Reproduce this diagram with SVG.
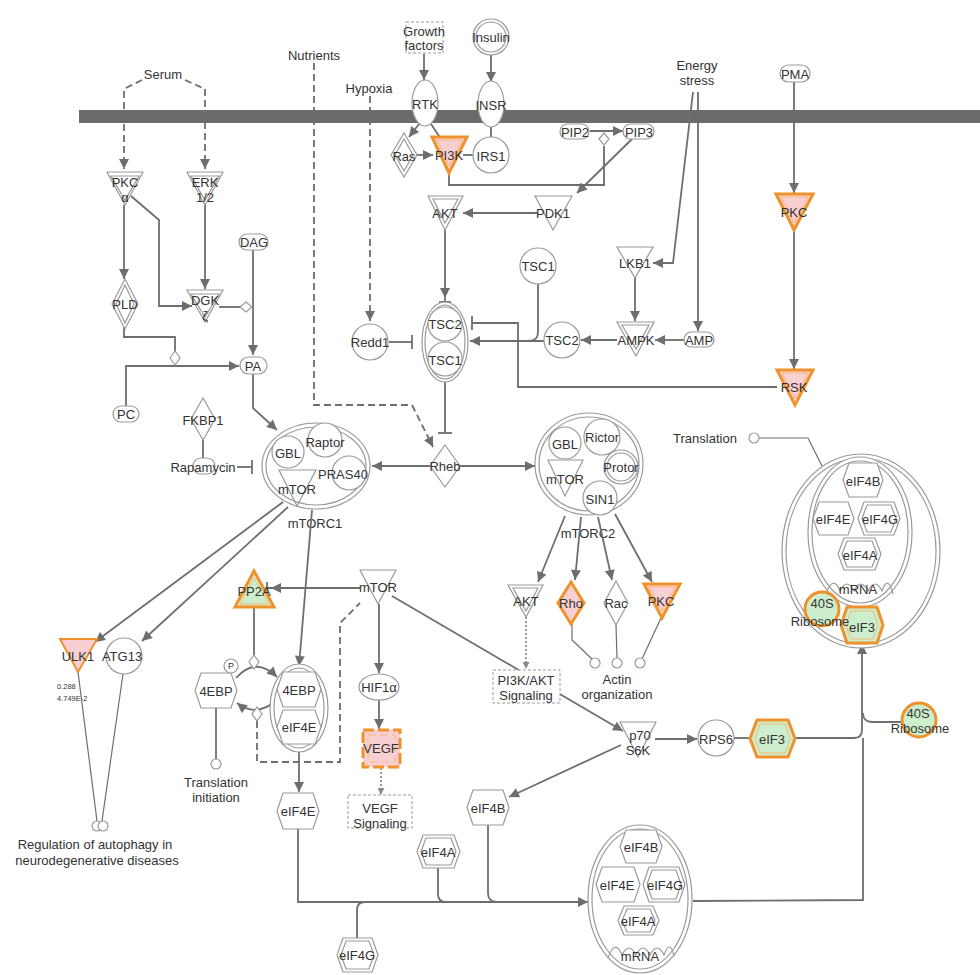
<svg xmlns="http://www.w3.org/2000/svg" width="980" height="975" viewBox="0 0 980 975">
<defs>
<style>
text{font-family:"Liberation Sans",Arial,sans-serif;font-size:13px;fill:#333;text-anchor:middle;dominant-baseline:central}
.sm{font-size:7.5px;text-anchor:start}
.n{fill:#fff;stroke:#9a9a9a;stroke-width:1.2}
.nn{fill:none;stroke:#9a9a9a;stroke-width:1.2}
.op{fill:#f8cfd2;stroke:#f0922b;stroke-width:3}
.og{fill:#cdeecd;stroke:#f0922b;stroke-width:3}
.oi{fill:none;stroke:#f7b978;stroke-width:1}
.e{fill:none;stroke:#6e6e6e;stroke-width:1.8}
.t{stroke-width:1.2}
.d{stroke-dasharray:7 4}
.dt{stroke-dasharray:2 2;stroke-width:1.4}
.box{fill:#fff;stroke:#9a9a9a;stroke-width:1;stroke-dasharray:3 2}
</style>
<marker id="ar" viewBox="0 0 10 10" refX="10" refY="5" markerWidth="11" markerHeight="10" markerUnits="userSpaceOnUse" orient="auto">
<path d="M0,0 L10,5 L0,10 z" fill="#6e6e6e"/>
</marker>
<marker id="ars" viewBox="0 0 10 10" refX="10" refY="5" markerWidth="8" markerHeight="7" markerUnits="userSpaceOnUse" orient="auto">
<path d="M0,0 L10,5 L0,10 z" fill="#8a8a8a"/>
</marker>
<marker id="bar" viewBox="0 0 4 14" refX="3" refY="7" markerWidth="4" markerHeight="14" markerUnits="userSpaceOnUse" orient="auto">
<path d="M3,0 L3,14" stroke="#6e6e6e" stroke-width="1.8"/>
</marker>
<marker id="arbar" viewBox="0 0 16 14" refX="15" refY="7" markerWidth="16" markerHeight="14" markerUnits="userSpaceOnUse" orient="auto">
<path d="M0,2 L10,7 L0,12 z" fill="#6e6e6e"/>
<path d="M14,1 L14,13" stroke="#6e6e6e" stroke-width="1.8"/>
</marker>
</defs>

<!-- plasma membrane -->
<rect x="79" y="110" width="901" height="13" fill="#6b6b6b"/>

<!-- free labels -->
<text x="163" y="74">Serum</text>
<text x="314" y="55">Nutrients</text>
<text x="369" y="88">Hypoxia</text>
<text x="697" y="65">Energy</text>
<text x="697" y="80">stress</text>
<text x="705" y="438">Translation</text>
<text x="315" y="523">mTORC1</text>
<text x="588" y="533">mTORC2</text>
<text x="617" y="679">Actin</text>
<text x="617" y="694">organization</text>
<text x="216" y="782">Translation</text>
<text x="216" y="797">initiation</text>
<text x="95" y="844">Regulation of autophagy in</text>
<text x="97" y="860">neurodegenerative diseases</text>
<text class="sm" x="57" y="686">0.288</text>
<text class="sm" x="57" y="698">4.749E-2</text>

<!-- connectors -->
<g id="edges">
<path class="e d" d="M142,80 L124,89 L124,169" marker-end="url(#ar)"/>
<path class="e d" d="M185,80 L205,89 L205,169" marker-end="url(#ar)"/>
<path class="e" d="M124,205 L124,279" marker-end="url(#ar)"/>
<path class="e" d="M131,196 L159,220 L159,306 L192,306" marker-end="url(#ar)"/>
<path class="e" d="M205,205 L205,289" marker-end="url(#ar)"/>
<path class="e" d="M219,307 L240,307"/>
<path class="e" d="M253,250 L253,355" marker-end="url(#ar)"/>
<path class="e" d="M124,327 L124,337 L175,337 L175,351"/>
<path class="e" d="M126,406 L126,366 L239,366" marker-end="url(#ar)"/>
<path class="e" d="M253,374 L253,408 L277,430" marker-end="url(#ar)"/>
<path class="e" d="M203,440 L203,458"/>
<path class="e" d="M237,467 L252,467" marker-end="url(#bar)"/>
<path class="e d" d="M314,63 L314,405 L412,405 L433,447" marker-end="url(#ar)"/>
<path class="e d" d="M370,96 L370,321" marker-end="url(#ar)"/>
<path class="e" d="M389,342 L412,342" marker-end="url(#bar)"/>
<path class="e" d="M445,381 L445,433" marker-end="url(#bar)"/>
<path class="e" d="M430,466 L372,466" marker-end="url(#ar)"/>
<path class="e" d="M460,466 L535,466" marker-end="url(#ar)"/>
<path class="e" d="M424,54 L424,80" marker-end="url(#ar)"/>
<path class="e" d="M491,55 L491,82" marker-end="url(#ar)"/>
<path class="e" d="M491,127 L491,137"/>
<path class="e" d="M419,124 L409,137" marker-end="url(#ar)"/>
<path class="e" d="M431,124 L441,139"/>
<path class="e" d="M417,155 L433,155" marker-end="url(#ar)"/>
<path class="e" d="M473,155 L463,155"/>
<path class="e" d="M590,131 L623,131" marker-end="url(#ar)"/>
<path class="e" d="M449,172 L449,185 L604,185 L604,146"/>
<path class="e" d="M632,139 L577,193" marker-end="url(#ar)"/>
<path class="e" d="M537,213 L463,213" marker-end="url(#ar)"/>
<path class="e" d="M445,230 L445,303" marker-end="url(#arbar)"/>
<path class="e" d="M538,284 L538,332 Q538,341 529,341"/>
<path class="e" d="M544,341 L470,341" marker-end="url(#ar)"/>
<path class="e" d="M777,387 L518,387 L518,323 L472,323" marker-end="url(#bar)"/>
<path class="e" d="M617,340 L581,340" marker-end="url(#ar)"/>
<path class="e" d="M684,340 L655,340" marker-end="url(#ar)"/>
<path class="e" d="M698,92 L698,331" marker-end="url(#ar)"/>
<path class="e" d="M693,92 L673,263 L653,263" marker-end="url(#ar)"/>
<path class="e" d="M635,278 L635,321" marker-end="url(#ar)"/>
<path class="e" d="M794,82 L794,193" marker-end="url(#ar)"/>
<path class="e" d="M794,231 L794,369" marker-end="url(#ar)"/>
<path class="e" d="M565,516 L538,582" marker-end="url(#ar)"/>
<path class="e" d="M581,517 L575,580" marker-end="url(#ar)"/>
<path class="e" d="M598,517 L612,580" marker-end="url(#ar)"/>
<path class="e" d="M615,514 L652,582" marker-end="url(#ar)"/>
<path class="e t" d="M572,624 L572,640 L592,659"/>
<path class="e t" d="M616,625 L617,658"/>
<path class="e t" d="M661,618 L642,659"/>
<path class="e dt" d="M526,617 L526,669" marker-end="url(#ars)"/>
<path class="e" d="M392,596 L623,731" marker-end="url(#ar)"/>
<path class="e" d="M655,739 L697,739" marker-end="url(#ar)"/>
<path class="e" d="M734,738 L750,738"/>
<path class="e" d="M795,738 L854,738 Q862,738 862,730 L862,644" marker-end="url(#ar)"/>
<path class="e" d="M902,722 L872,722 Q863,722 863,713"/>
<path class="e" d="M693,901 L863,900 L863,738"/>
<path class="e" d="M621,745 L509,797" marker-end="url(#ar)"/>
<path class="e" d="M488,825 L488,893 Q488,902 497,902"/>
<path class="e" d="M438,868 L438,894 Q438,902 446,902"/>
<path class="e" d="M357,938 L357,910 Q357,902 365,902"/>
<path class="e" d="M298,829 L298,902 L588,902" marker-end="url(#ar)"/>
<path class="e" d="M283,502 L95,642" marker-end="url(#ar)"/>
<path class="e" d="M288,507 L142,641" marker-end="url(#ar)"/>
<path class="e t" d="M78,672 L97,821"/>
<path class="e t" d="M123,674 L102,821"/>
<path class="e" d="M312,510 L299,666" marker-end="url(#ar)"/>
<path class="e" d="M360,588 L266,588" marker-end="url(#arbar)"/>
<path class="e" d="M254,607 L254,656"/>
<path class="e" d="M236,678 Q256,656 277,677" marker-end="url(#ar)"/>
<path class="e" d="M277,700 Q256,718 237,703" marker-end="url(#ar)"/>
<path class="e d" d="M257,721 L257,762 L340,762 L340,623 L360,603"/>
<path class="e" d="M299,752 L299,792" marker-end="url(#ar)"/>
<path class="e" d="M216,708 L216,759"/>
<path class="e" d="M379,604 L379,673" marker-end="url(#ar)"/>
<path class="e" d="M379,700 L379,729" marker-end="url(#ar)"/>
<path class="e dt" d="M381,768 L381,795" marker-end="url(#ars)"/>
<path class="e t" d="M759,438 L808,438 L822,466"/>
<!-- small junction marks -->
<polygon class="n" points="240,307 246,302 252,307 246,312"/>
<polygon class="n" points="170,358 175,351 180,358 175,365"/>
<polygon class="n" points="599,139 604,133 609,139 604,145"/>
<polygon class="n" points="249,662 254,655 259,662 254,669"/>
<polygon class="n" points="252,714 257,707 262,714 257,721"/>
<circle class="n" cx="216" cy="764" r="5"/>
<circle class="n" cx="97" cy="826" r="5"/>
<circle class="n" cx="103" cy="826" r="5"/>
<circle class="n" cx="595" cy="663" r="5"/>
<circle class="n" cx="617" cy="663" r="5"/>
<circle class="n" cx="640" cy="663" r="5"/>
<circle class="n" cx="754" cy="438" r="5"/>
</g>

<!-- upstream inputs -->
<g id="growth-factors"><rect class="box" x="406" y="22" width="37" height="31"/><text x="424" y="31">Growth</text><text x="424" y="45">factors</text></g>
<g id="insulin"><circle class="n" cx="491" cy="37" r="18"/><circle class="n" cx="491" cy="37" r="15"/><text x="491" y="37">Insulin</text></g>
<g id="pma"><rect class="n" x="780" y="65" width="30" height="17" rx="8.5"/><text x="795" y="74">PMA</text></g>
<g id="rtk"><ellipse class="n" cx="425" cy="103" rx="13" ry="23"/><text x="425" y="104">RTK</text></g>
<g id="insr"><ellipse class="n" cx="491" cy="104" rx="13" ry="23"/><text x="491" y="105">INSR</text></g>
<g id="ras"><polygon class="n" points="404,133 417,155 404,177 391,155"/><polygon class="nn" points="404,139 413,155 404,171 395,155"/><text x="404" y="156">Ras</text></g>
<g id="pi3k"><polygon class="op" points="432,137 467,137 449,173"/><polygon class="oi" points="437,140 462,140 449,166"/><text x="449" y="155">PI3K</text></g>
<g id="irs1"><circle class="n" cx="491" cy="155" r="18"/><text x="491" y="156">IRS1</text></g>
<g id="pip2"><rect class="n" x="560" y="124" width="29" height="15" rx="7.5"/><text x="575" y="132">PIP2</text></g>
<g id="pip3"><rect class="n" x="623" y="124" width="31" height="15" rx="7.5"/><text x="639" y="132">PIP3</text></g>
<g id="akt-top"><polygon class="n" points="428,196 463,196 445,230"/><polygon class="nn" points="433,199 458,199 445,223"/><text x="445" y="213">AKT</text></g>
<g id="pdk1"><polygon class="n" points="535,196 572,196 553,230"/><text x="553" y="213">PDK1</text></g>
<g id="pkc-right"><polygon class="op" points="776,194 813,194 794,230"/><polygon class="oi" points="781,197 808,197 794,223"/><text x="794" y="212">PKC</text></g>
<g id="rsk"><polygon class="op" points="777,370 813,370 795,405"/><polygon class="oi" points="782,373 808,373 795,398"/><text x="794" y="387">RSK</text></g>

<!-- serum / lipid branch -->
<g id="pkc-alpha"><polygon class="n" points="107,172 143,172 125,205"/><polygon class="nn" points="111,176 139,176 125,200"/><text x="125" y="182">PKC</text><text x="125" y="197">α</text></g>
<g id="erk"><polygon class="n" points="187,172 223,172 205,205"/><polygon class="nn" points="191,176 219,176 205,200"/><text x="205" y="182">ERK</text><text x="205" y="197">1/2</text></g>
<g id="pld"><polygon class="n" points="125,279 138,304 125,329 112,304"/><polygon class="nn" points="125,285 134,304 125,323 116,304"/><text x="125" y="304">PLD</text></g>
<g id="dgk"><polygon class="n" points="187,290 223,290 205,322"/><polygon class="nn" points="191,294 219,294 205,317"/><text x="205" y="300">DGK</text><text x="205" y="315">ζ</text></g>
<g id="dag"><rect class="n" x="239" y="234" width="29" height="16" rx="8"/><text x="254" y="242">DAG</text></g>
<g id="pa"><rect class="n" x="240" y="357" width="27" height="17" rx="8.5"/><text x="253" y="366">PA</text></g>
<g id="pc"><rect class="n" x="113" y="406" width="26" height="16" rx="8"/><text x="126" y="414">PC</text></g>
<g id="fkbp1"><polygon class="n" points="203,398 215,419 203,440 191,419"/><text x="203" y="420">FKBP1</text></g>
<g id="rapamycin"><rect class="n" x="193" y="458" width="22" height="16" rx="8"/><text x="203" y="467">Rapamycin</text></g>

<!-- mTORC1 -->
<g id="mtorc1">
<ellipse class="n" cx="316" cy="466" rx="54" ry="43"/><ellipse class="nn" cx="316" cy="466" rx="50" ry="39"/>
<circle class="n" cx="288" cy="452" r="16"/><circle class="n" cx="325" cy="440" r="17"/><circle class="n" cx="349" cy="473" r="17"/>
<polygon class="nn" points="279,470 316,470 297,506"/>
<text x="288" y="453">GBL</text><text x="325" y="442">Raptor</text><text x="343" y="474">PRAS40</text><text x="297" y="489">mTOR</text>
</g>

<!-- TSC / AMPK branch -->
<g id="redd1"><circle class="n" cx="370" cy="342" r="18"/><text x="370" y="342">Redd1</text></g>
<g id="tsc-complex"><ellipse class="n" cx="445" cy="342" rx="23" ry="40"/><ellipse class="nn" cx="445" cy="342" rx="20" ry="37"/><circle class="n" cx="445" cy="324" r="17"/><circle class="n" cx="445" cy="359" r="17"/><text x="445" y="324">TSC2</text><text x="445" y="360">TSC1</text></g>
<g id="tsc1"><circle class="n" cx="538" cy="266" r="18"/><text x="538" y="266">TSC1</text></g>
<g id="tsc2"><circle class="n" cx="562" cy="340" r="18"/><text x="562" y="340">TSC2</text></g>
<g id="lkb1"><polygon class="n" points="617,247 653,247 635,278"/><text x="635" y="263">LKB1</text></g>
<g id="ampk"><polygon class="n" points="617,322 654,322 636,356"/><polygon class="nn" points="622,325 649,325 636,349"/><text x="636" y="340">AMPK</text></g>
<g id="amp"><rect class="n" x="684" y="332" width="30" height="15" rx="7.5"/><text x="699" y="340">AMP</text></g>
<g id="rheb"><polygon class="n" points="445,445 460,466 445,487 430,466"/><text x="445" y="466">Rheb</text></g>

<!-- mTORC2 and outputs -->
<g id="mtorc2">
<ellipse class="n" cx="589" cy="464" rx="54" ry="51"/><ellipse class="nn" cx="589" cy="464" rx="50" ry="47"/>
<circle class="n" cx="565" cy="443" r="16"/><circle class="n" cx="602" cy="437" r="18"/>
<circle class="n" cx="621" cy="467" r="17"/><circle class="nn" cx="621" cy="467" r="14"/>
<polygon class="nn" points="548,460 583,460 565,496"/><circle class="n" cx="600" cy="498" r="17"/>
<text x="565" y="444">GBL</text><text x="602" y="437">Rictor</text><text x="621" y="467">Protor</text><text x="565" y="479">mTOR</text><text x="600" y="499">SIN1</text>
</g>
<g id="akt-low"><polygon class="n" points="508,585 543,585 526,617"/><polygon class="nn" points="513,588 538,588 526,611"/><text x="526" y="601">AKT</text></g>
<g id="rho"><polygon class="op" points="571,582 584,603 571,624 558,603"/><text x="571" y="603">Rho</text></g>
<g id="rac"><polygon class="n" points="616,581 628,603 616,625 604,603"/><text x="616" y="603">Rac</text></g>
<g id="pkc-low"><polygon class="op" points="644,584 680,584 662,618"/><polygon class="oi" points="649,587 675,587 662,611"/><text x="661" y="601">PKC</text></g>
<g id="pi3k-akt-signaling"><rect class="box" x="493" y="670" width="67" height="33"/><text x="526" y="680">PI3K/AKT</text><text x="526" y="695">Signaling</text></g>
<g id="p70s6k"><polygon class="n" points="620,722 656,722 638,757"/><text x="640" y="735">p70</text><text x="638" y="750">S6K</text></g>
<g id="rps6"><circle class="n" cx="716" cy="738" r="18"/><text x="716" y="739">RPS6</text></g>
<g id="eif3"><polygon class="og" points="750,738.5 757,720 788,720 795,738.5 788,757 757,757"/><polygon class="oi" points="755,738.5 760,724 785,724 790,738.5 785,753 760,753"/><text x="772" y="739">eIF3</text></g>
<g id="ribosome-40s"><circle class="og" cx="919" cy="720" r="17"/><text x="918" y="713">40S</text><text x="920" y="728">Ribosome</text></g>

<!-- autophagy branch -->
<g id="ulk1"><polygon fill="#f8cfd2" stroke="#f0922b" stroke-width="2" points="60,639 97,639 78,672"/><text x="78" y="656">ULK1</text></g>
<g id="atg13"><circle class="n" cx="124" cy="656" r="18"/><text x="122" y="656">ATG13</text></g>

<!-- 4EBP / translation branch -->
<g id="pp2a"><polygon class="og" points="235,607 274,607 254,571"/><polygon class="oi" points="240,604 269,604 254,578"/><text x="254" y="591">PP2A</text></g>
<g id="mtor-low"><polygon class="n" points="360,570 396,570 378,604"/><text x="378" y="587">mTOR</text></g>
<g id="4ebp-p"><polygon class="n" points="195,690.5 201,673 231,673 237,690.5 231,708 201,708"/><text x="216" y="691">4EBP</text><circle class="n" cx="231" cy="666" r="7"/><text x="231" y="666" style="font-size:9px">P</text></g>
<g id="4ebp-eif4e"><ellipse class="n" cx="299" cy="708" rx="29" ry="44"/><ellipse class="nn" cx="299" cy="708" rx="25" ry="40"/>
<polygon class="n" points="277,689.5 283,672 315,672 321,689.5 315,707 283,707"/><polygon class="n" points="277,727 283,710 315,710 321,727 315,744 283,744"/>
<text x="299" y="690">4EBP</text><text x="299" y="727">eIF4E</text></g>
<g id="eif4e"><polygon class="n" points="277,811 283,793 313,793 319,811 313,829 283,829"/><text x="298" y="811">eIF4E</text></g>
<g id="hif1a"><ellipse class="n" cx="379" cy="687" rx="20" ry="13"/><text x="379" y="687">HIF1α</text></g>
<g id="vegf"><rect fill="#f8cfd2" stroke="#f0922b" stroke-width="3" stroke-dasharray="11 4" x="363" y="730" width="37" height="37"/><rect fill="none" stroke="#f7b978" stroke-width="1" stroke-dasharray="8 4" x="368" y="735" width="27" height="27"/><text x="381" y="748">VEGF</text></g>
<g id="vegf-signaling"><rect class="box" x="348" y="795" width="64" height="33"/><text x="380" y="808">VEGF</text><text x="380" y="823">Signaling</text></g>
<g id="eif4b"><polygon class="n" points="467,807.5 473,790 503,790 509,807.5 503,825 473,825"/><text x="488" y="808">eIF4B</text></g>
<g id="eif4a"><polygon class="n" points="417,851.5 423,835 454,835 460,851.5 454,868 423,868"/><polygon class="nn" points="421,851.5 426,838 451,838 456,851.5 451,865 426,865"/><text x="438" y="852">eIF4A</text></g>
<g id="eif4g"><polygon class="n" points="337,955 343,938 372,938 378,955 372,972 343,972"/><polygon class="nn" points="341,955 346,941 369,941 374,955 369,969 346,969"/><text x="357" y="955">eIF4G</text></g>

<!-- eIF4F complex on mRNA -->
<g id="eif4f-mrna">
<ellipse class="n" cx="640" cy="899" rx="52" ry="74"/><ellipse class="nn" cx="640" cy="899" rx="48" ry="70"/>
<polygon class="n" points="620,846.5 626,830 656,830 662,846.5 656,863 626,863"/>
<polygon class="n" points="596,884.5 602,867 634,867 640,884.5 634,902 602,902"/>
<polygon class="n" points="643,884.5 649,867 679,867 685,884.5 679,902 649,902"/><polygon class="nn" points="647,884.5 652,870 676,870 681,884.5 676,899 652,899"/>
<polygon class="n" points="618,920.5 624,906 653,906 659,920.5 653,935 624,935"/><polygon class="nn" points="622,920.5 627,909 650,909 655,920.5 650,932 627,932"/>
<path class="nn" d="M608,958 Q615,938 622,955 Q629,941 636,955 Q643,941 650,955 Q657,941 664,955 Q670,938 674,956"/>
<text x="641" y="847">eIF4B</text><text x="617" y="885">eIF4E</text><text x="665" y="885">eIF4G</text><text x="638" y="921">eIF4A</text><text x="640" y="956">mRNA</text>
</g>

<!-- translation initiation complex -->
<g id="initiation-complex">
<ellipse class="n" cx="861" cy="551" rx="79" ry="97"/><ellipse class="nn" cx="861" cy="551" rx="75" ry="93"/>
<ellipse class="n" cx="860" cy="532" rx="52" ry="75"/><ellipse class="nn" cx="860" cy="532" rx="48" ry="71"/>
<polygon class="n" points="843,480 849,463 877,463 883,480 877,497 849,497"/>
<polygon class="n" points="813,518.5 819,502 848,502 854,518.5 848,535 819,535"/>
<polygon class="n" points="858,518.5 864,502 894,502 900,518.5 894,535 864,535"/><polygon class="nn" points="862,518.5 867,505 891,505 896,518.5 891,532 867,532"/>
<polygon class="n" points="838,554 844,538 875,538 881,554 875,570 844,570"/><polygon class="nn" points="842,554 847,541 872,541 877,554 872,567 847,567"/>
<path class="nn" d="M826,594 Q833,574 840,591 Q847,577 854,591 Q861,577 868,591 Q875,577 882,591 Q888,574 893,594"/>
<text x="863" y="481">eIF4B</text><text x="833" y="519">eIF4E</text><text x="880" y="519">eIF4G</text><text x="860" y="555">eIF4A</text><text x="858" y="589">mRNA</text>
<circle class="og" cx="822" cy="609" r="17"/>
<polygon class="og" points="841,625 847,607 877,607 883,625 877,643 847,643"/><polygon class="oi" points="846,625 851,611 873,611 878,625 873,639 851,639"/>
<text x="822" y="603">40S</text><text x="820" y="621">Ribosome</text><text x="862" y="627">eIF3</text>
</g>
</svg>
